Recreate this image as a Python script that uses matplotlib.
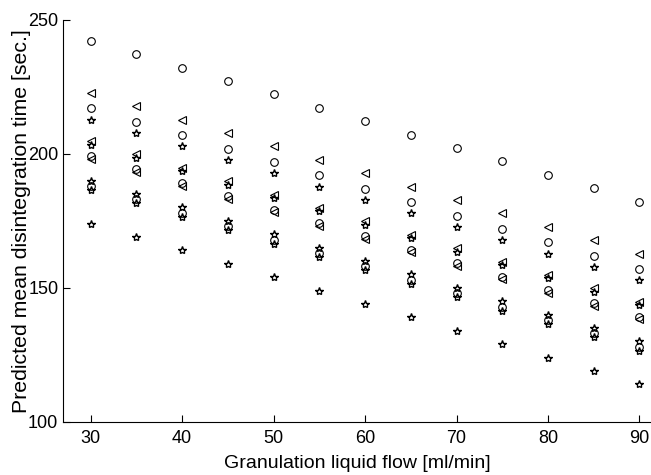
#!/usr/bin/env python3
"""Predicted mean disintegration time vs granulation liquid flow."""

import matplotlib

matplotlib.use("Agg")
import matplotlib.pyplot as plt

flow = [30, 35, 40, 45, 50, 55, 60, 65, 70, 75, 80, 85, 90]

circle_a = [242.2, 237.2, 232.2, 227.2, 222.2, 217.2, 212.2, 207.2, 202.2, 197.2, 192.2, 187.2, 182.2]
circle_b = [217.0, 212.0, 207.0, 202.0, 197.0, 192.0, 187.0, 182.0, 177.0, 172.0, 167.0, 162.0, 157.0]
circle_c = [199.2, 194.2, 189.2, 184.2, 179.2, 174.2, 169.2, 164.2, 159.2, 154.2, 149.2, 144.2, 139.2]
circle_d = [188.0, 183.0, 178.0, 173.0, 168.0, 163.0, 158.0, 153.0, 148.0, 143.0, 138.0, 133.0, 128.0]

tri_a = [222.8, 217.8, 212.8, 207.8, 202.8, 197.8, 192.8, 187.8, 182.8, 177.8, 172.8, 167.8, 162.8]
tri_b = [204.8, 199.8, 194.8, 189.8, 184.8, 179.8, 174.8, 169.8, 164.8, 159.8, 154.8, 149.8, 144.8]
tri_c = [198.2, 193.2, 188.2, 183.2, 178.2, 173.2, 168.2, 163.2, 158.2, 153.2, 148.2, 143.2, 138.2]

star_a = [212.8, 207.8, 202.8, 197.8, 192.8, 187.8, 182.8, 177.8, 172.8, 167.8, 162.8, 157.8, 152.8]
star_b = [203.5, 198.5, 193.5, 188.5, 183.5, 178.5, 173.5, 168.5, 163.5, 158.5, 153.5, 148.5, 143.5]
star_c = [190.0, 185.0, 180.0, 175.0, 170.0, 165.0, 160.0, 155.0, 150.0, 145.0, 140.0, 135.0, 130.0]
star_d = [186.5, 181.5, 176.5, 171.5, 166.5, 161.5, 156.5, 151.5, 146.5, 141.5, 136.5, 131.5, 126.5]
star_e = [174.0, 169.0, 164.0, 159.0, 154.0, 149.0, 144.0, 139.0, 134.0, 129.0, 124.0, 119.0, 114.0]

x_ticks = [30, 40, 50, 60, 70, 80, 90]
y_ticks = [100, 150, 200, 250]


def main() -> None:
    plt.rcParams.update(
        {
            "font.family": ["Liberation Sans", "DejaVu Sans"],
            "font.size": 13,
        }
    )
    fig = plt.figure(figsize=(6.51, 4.75), dpi=100)
    ax = fig.add_axes([0.097, 0.112, 0.905, 0.846])

    style = dict(linestyle="none", color="black", mfc="none")
    for series in (circle_a, circle_b, circle_c, circle_d):
        ax.plot(flow, series, marker="o", markersize=5.5, mew=0.8, **style)
    for series in (tri_a, tri_b, tri_c):
        ax.plot(flow, series, marker="<", markersize=5.5, mew=0.8, **style)
    for series in (star_a, star_b, star_c, star_d, star_e):
        ax.plot(flow, series, marker="*", markersize=6, mew=1.0, **style)

    ax.set_xlim(27.0, 91.4)
    ax.set_ylim(100, 250)
    ax.set_xticks(x_ticks)
    ax.set_yticks(y_ticks)
    ax.tick_params(direction="in", length=5, width=0.8, labelsize=13)
    ax.tick_params(axis="x", pad=6)
    ax.spines["top"].set_visible(False)
    ax.spines["right"].set_visible(False)
    for side in ("left", "bottom"):
        ax.spines[side].set_linewidth(0.8)
    ax.set_xlabel("Granulation liquid flow [ml/min]", fontsize=14, labelpad=6)
    ax.set_ylabel("Predicted mean disintegration time [sec.]", fontsize=15.3, labelpad=-2)

    fig.savefig("out.png", dpi=100)
    plt.close(fig)


if __name__ == "__main__":
    main()
